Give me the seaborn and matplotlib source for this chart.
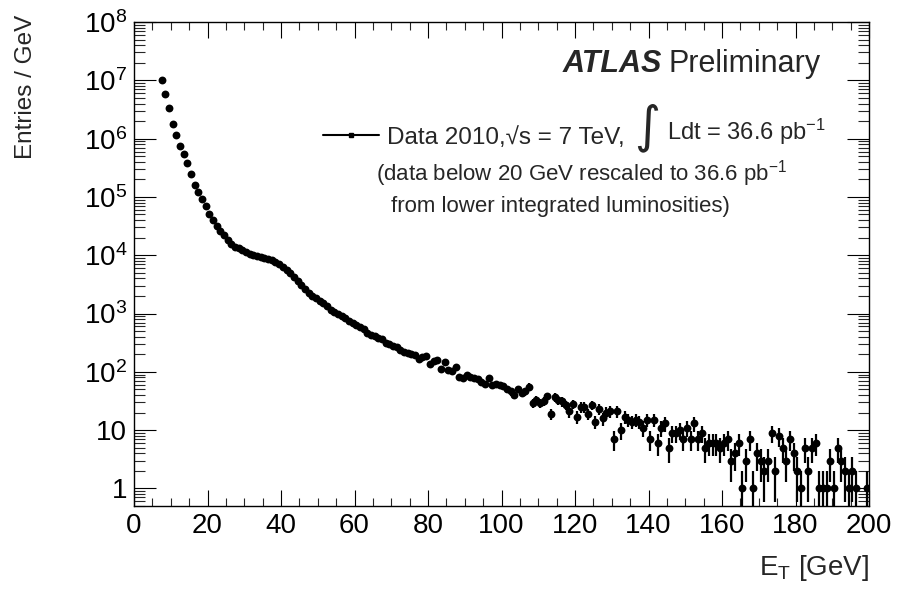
import numpy as np
import pandas as pd
import matplotlib
matplotlib.use("Agg")
import matplotlib.pyplot as plt
import seaborn as sns
from matplotlib.ticker import FixedLocator, FixedFormatter, LogLocator, MultipleLocator, NullFormatter
from matplotlib.lines import Line2D

# ---------------- data (1 GeV bins, first bin 7-8 GeV) ----------------
first_bin_low = 7.0
bin_width = 1.0
entries_7_20 = [1.0e7, 5.75e6, 3.3e6, 1.78e6, 1.15e6, 7.4e5, 5.4e5, 3.8e5, 2.5e5,
                1.6e5, 1.2e5, 9.1e4, 7.1e4]
entries_20_60 = [50100, 39800, 31600, 26300, 21900, 18400, 15800, 14100, 13200, 12300,
                 11500, 10700, 10100, 9550, 9230, 8810, 8510, 8220, 7760, 7080,
                 6310, 5620, 4900, 4170, 3630, 3090, 2630, 2240, 2000, 1820,
                 1660, 1510, 1320, 1160, 1070, 990, 912, 832, 759, 692]
entries_60_100 = [631, 589, 537, 457, 427, 407, 380, 359, 316, 302,
                  275, 263, 240, 219, 214, 200, 195, 166, 178, 186,
                  138, 151, 158, 112, 148, 107, 105, 120, 81, 78,
                  87, 82, 79, 76, 68, 63, 78, 59, 63, 59]
entries_100_140 = [58, 51, 46, 40, 51, 43, 46, 56, 29, 33,
                   29, 32, 38, 19, 37, 33, 31, 27, 21, 28,
                   17, 25, 25, 19, 27, 14, 23, 16, 20, 21,
                   7, 21, 10, 17, 15, 14, 15, 14, 11, 15]
entries_140_200 = [7, 15, 6, 11, 13, 5, 9, 9, 10, 7,
                   11, 7, 13, 7, 9, 5, 6, 6, 6, 5,
                   6, 7, 3, 4, 6, 1, 3, 7, 1, 4,
                   3, 2, 3, 9, 2, 8, 5, 3, 7, 4,
                   2, 1, 5, 2, 5, 6, 1, 1, 1, 3,
                   1, 5, 3, 2, 1, 2, 1, 0, 0, 1]

x_ticks = [0, 20, 40, 60, 80, 100, 120, 140, 160, 180, 200]
y_ticks = [1, 10, 1e2, 1e3, 1e4, 1e5, 1e6, 1e7, 1e8]
y_tick_labels = ["1", "10", "10$^{2}$", "10$^{3}$", "10$^{4}$", "10$^{5}$",
                 "10$^{6}$", "10$^{7}$", "10$^{8}$"]

# ---------------- build table ----------------
entries = np.array(entries_7_20 + entries_20_60 + entries_60_100 +
                   entries_100_140 + entries_140_200, dtype=float)
et = first_bin_low + bin_width * (np.arange(len(entries)) + 0.5)
df = pd.DataFrame({"ET": et, "entries": entries})
df = df[df["entries"] > 0].reset_index(drop=True)
df["err"] = np.sqrt(df["entries"])

# ---------------- style ----------------
sns.set_theme(style="ticks")
plt.rcParams["font.family"] = ["Liberation Sans", "DejaVu Sans"]
plt.rcParams["mathtext.fontset"] = "custom"
plt.rcParams["mathtext.rm"] = "Liberation Sans"
plt.rcParams["mathtext.it"] = "Liberation Sans:italic"
plt.rcParams["mathtext.bf"] = "Liberation Sans:bold"

fig = plt.figure(figsize=(9.06, 5.90), dpi=100)
ax = fig.add_axes([134 / 906, 1 - 506 / 590, 735 / 906, 484 / 590])

ax.errorbar(df["ET"], df["entries"], yerr=df["err"], xerr=bin_width / 2,
            fmt="none", ecolor="black", elinewidth=1.6, capsize=0, zorder=2)
sns.scatterplot(data=df, x="ET", y="entries", ax=ax, color="black", marker="o",
                s=32, linewidth=0, zorder=3, legend=False)

ax.set_yscale("log")
ax.set_xlim(0, 200)
ax.set_ylim(0.5, 1e8)

ax.xaxis.set_major_locator(FixedLocator(x_ticks))
ax.xaxis.set_minor_locator(MultipleLocator(5))
ax.yaxis.set_major_locator(FixedLocator(y_ticks))
ax.yaxis.set_major_formatter(FixedFormatter(y_tick_labels))
ax.yaxis.set_minor_locator(LogLocator(base=10, subs=np.arange(2, 10), numticks=30))
ax.yaxis.set_minor_formatter(NullFormatter())

for s in ax.spines.values():
    s.set_visible(True)
    s.set_color("black")
    s.set_linewidth(1.0)

ax.tick_params(axis="x", which="major", direction="in", length=11.5, width=0.8,
               top=True, bottom=True, labelsize=20, pad=5, colors="black")
ax.tick_params(axis="x", which="minor", direction="in", length=5.5, width=0.8,
               top=True, bottom=True)
ax.tick_params(axis="y", which="major", direction="in", length=16, width=0.8,
               left=True, right=True, labelsize=20, pad=5, colors="black")
ax.tick_params(axis="y", which="minor", direction="in", length=8, width=0.8,
               left=True, right=True)

ax.set_xlabel(r"E$_{\mathrm{T}}$ [GeV]", fontsize=20, loc="right")
ax.xaxis.set_label_coords(1.0, -0.098)
ax.set_ylabel("Entries / GeV", fontsize=17.5, loc="top")
ax.yaxis.set_label_coords(-0.132, 1.014)

# ---------------- annotations ----------------
ax.text(0.5837, 0.913, "ATLAS", transform=ax.transAxes, fontsize=22,
        fontweight="bold", fontstyle="italic", ha="left", va="center")
ax.text(0.727, 0.913, "Preliminary", transform=ax.transAxes, fontsize=22,
        ha="left", va="center")

handle = Line2D([0], [0], color="black", lw=1.5, marker="s", markersize=3)
fs_leg = 17.5
fs_px = fs_leg * 100 / 72
ax.legend([handle], ["Data 2010,√s = 7 TeV,"], loc="center left",
          bbox_to_anchor=(0.257, 0.761), frameon=False, fontsize=fs_leg,
          borderpad=0, borderaxespad=0, handlelength=56.6 / fs_px,
          handletextpad=7.4 / fs_px)
ax.text(0.698, 0.782, "∫", transform=ax.transAxes, fontsize=36,
        family="DejaVu Sans", ha="center", va="center")
ax.text(0.7252, 0.772, "Ldt = 36.6 pb$^{-1}$", transform=ax.transAxes,
        fontsize=17, ha="left", va="center")
ax.text(0.329, 0.686, "(data below 20 GeV rescaled to 36.6 pb$^{-1}$",
        transform=ax.transAxes, fontsize=16, ha="left", va="center")
ax.text(0.349, 0.618, "from lower integrated luminosities)",
        transform=ax.transAxes, fontsize=16, ha="left", va="center")

fig.savefig("out.png", dpi=100)
